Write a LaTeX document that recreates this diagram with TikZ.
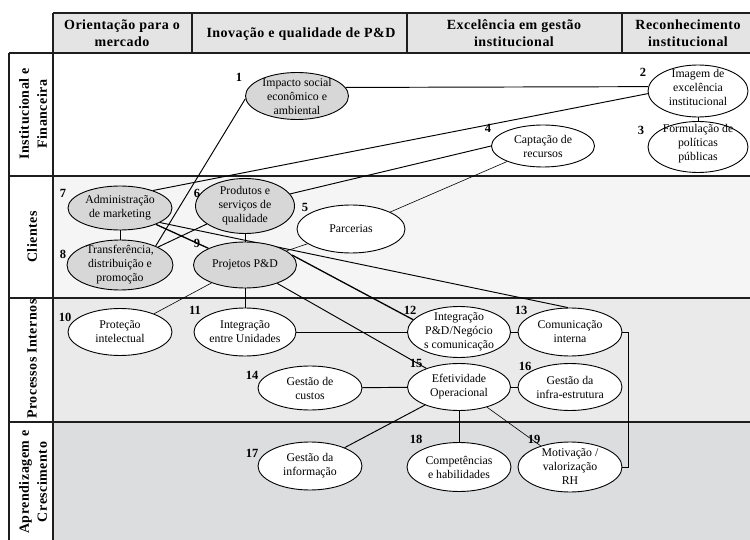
\documentclass[tikz,border=0pt]{standalone}
\usepackage{fontspec}
\setmainfont{Liberation Serif}
\newfontfamily\spacedbold[LetterSpace=3.5]{Liberation Serif}
\usetikzlibrary{shapes.geometric,calc}
\pgfdeclarelayer{back}
\pgfdeclarelayer{mid}
\pgfsetlayers{back,mid,main}
\definecolor{hdr}{HTML}{E4E4E4}
\definecolor{rowb}{HTML}{F5F5F5}
\definecolor{rowc}{HTML}{EAEAEB}
\definecolor{rowd}{HTML}{DCDDDF}
\definecolor{ellgray}{HTML}{D7D7D7}
\definecolor{gridc}{HTML}{1E1E1E}
\tikzset{
  ell/.style={ellipse, draw, line width=0.9pt, inner sep=0pt},
  gr/.style={ell, fill=ellgray},
  wh/.style={ell, fill=white},
  txt/.style={align=center, inner sep=0pt, font=\fontsize{11.8}{14}\selectfont},
  num/.style={inner sep=0pt, font=\fontsize{12.5}{13}\selectfont\bfseries},
  con/.style={line width=0.95pt},
  thincon/.style={line width=0.6pt},
  thickcon/.style={line width=1.3pt},
  gridline/.style={line width=1.7pt, draw=gridc},
  hdrtext/.style={align=center, inner sep=0pt, font=\fontsize{14}{17}\spacedbold\bfseries},
  rowlabel/.style={align=center, inner sep=0pt, rotate=90, font=\fontsize{14}{18}\spacedbold\bfseries}
}
\begin{document}
\begin{tikzpicture}[x=1pt,y=-1pt]
\useasboundingbox (0,0) rectangle (750,540);
\begin{pgfonlayer}{back}
\fill[white] (0,0) rectangle (750,540);
\fill[hdr] (53,13) rectangle (750,53);
\fill[rowb] (53,176) rectangle (750,298);
\fill[rowc] (53,298) rectangle (750,422);
\fill[rowd] (53,422) rectangle (750,540);
\draw[gridline] (53,13) -- (750,13);
\draw[gridline] (9,53) -- (750,53);
\draw[gridline] (9,176) -- (750,176);
\draw[gridline] (9,298) -- (750,298);
\draw[gridline] (9,422) -- (750,422);
\draw[gridline] (9,53) -- (9,540);
\draw[gridline] (53,13) -- (53,540);
\draw[gridline] (192,13) -- (192,53);
\draw[gridline] (407,13) -- (407,53);
\draw[gridline] (622,13) -- (622,53);
\end{pgfonlayer}
% header texts
\node[hdrtext] (h1) at (122,33) {Orientação para o\\mercado};
\node[hdrtext] (h2) at (301,34) {Inovação e qualidade de P\&D};
\node[hdrtext] (h3) at (514,33) {Excelência em gestão\\institucional};
\node[hdrtext] (h4) at (688,33) {Reconhecimento\\institucional};
% row labels
\node[rowlabel] (r1) at (33,114) {Institucional e\\Financeira};
\node[rowlabel] (r2) at (32,237) {Clientes};
\node[rowlabel] (r3) at (32,359) {Processos Internos};
\node[rowlabel] (r4) at (33,482) {Aprendizagem e\\Crescimento};
% nodes
\node[gr, minimum width=103, minimum height=47, label={[txt]center:{Impacto social\\econômico e\\ambiental}}] (n1) at (297,96) {};
\node[wh, minimum width=100, minimum height=52, label={[txt, yshift=4pt]center:{Imagem de\\excelência\\institucional}}] (n2) at (698,91) {};
\node[wh, minimum width=100, minimum height=51, label={[txt, yshift=3pt]center:{Formulação de\\políticas\\públicas}}] (n3) at (698,147) {};
\node[wh, minimum width=103, minimum height=42, label={[txt]center:{Captação de\\recursos}}] (n4) at (543,146) {};
\node[wh, minimum width=108, minimum height=48, label={[txt]center:{Parcerias}}] (n5) at (351,229) {};
\node[gr, minimum width=99, minimum height=55, label={[txt]center:{Produtos e\\serviços de\\qualidade}}] (n6) at (245,206) {};
\node[gr, minimum width=104, minimum height=44, label={[txt]center:{Administração\\de marketing}}] (n7) at (120,208) {};
\node[gr, minimum width=106, minimum height=50, label={[txt]center:{Transferência,\\distribuição e\\promoção}}] (n8) at (120,265) {};
\node[gr, minimum width=103, minimum height=46, label={[txt]center:{Projetos P\&D}}] (n9) at (245,265) {};
\node[wh, minimum width=104, minimum height=47, label={[txt]center:{Proteção\\intelectual}}] (n10) at (120,332) {};
\node[wh, minimum width=102, minimum height=48, label={[txt]center:{Integração\\entre Unidades}}] (n11) at (245,332) {};
\node[wh, minimum width=103, minimum height=51, label={[txt]center:{Integração\\P\&D/Negócio\\s comunicação}}] (n12) at (459,332) {};
\node[wh, minimum width=104, minimum height=48, label={[txt]center:{Comunicação\\interna}}] (n13) at (570,332) {};
\node[wh, minimum width=104, minimum height=44, label={[txt]center:{Gestão de\\custos}}] (n14) at (310,388) {};
\node[wh, minimum width=103, minimum height=47, label={[txt]center:{Efetividade\\Operacional}}] (n15) at (459,387) {};
\node[wh, minimum width=104, minimum height=47, label={[txt]center:{Gestão da\\infra-estrutura}}] (n16) at (570,387) {};
\node[wh, minimum width=104, minimum height=48, label={[txt]center:{Gestão da\\informação}}] (n17) at (310,466) {};
\node[wh, minimum width=104, minimum height=49, label={[txt]center:{Competências\\e habilidades}}] (n18) at (459,467) {};
\node[wh, minimum width=104, minimum height=50, label={[txt]center:{Motivação /\\valorização\\RH}}] (n19) at (570,467) {};
% connectors
\begin{pgfonlayer}{mid}
\draw[con] (n1.10) -- (n2.175);
\draw[con] (n2) -- (n3);
\draw[con] (n2.183) -- (n7.28);
\draw[con] (n1.183) -- (n8.28);
\draw[con] (n4.west) -- (n6.15);
\draw[thincon] (n4) -- (n5);
\draw[thincon] (n5) -- (n9);
\draw[con] (n7) -- (n8);
\draw[con] (n6) -- (n9);
\draw[con] (n6) -- (n8);
\draw[thickcon] (n7) -- (n9);
\draw[con] (n7.-20) -- (n13.95);
\draw[con] (n13.east) -- ++(6,0) |- (n19.east);
\draw[thincon] (n9) -- (n10);
\draw[con] (n9) -- (n11);
\draw[thickcon] (n9.12) -- (n12.165);
\draw[con] (n9) -- (n15);
\draw[con] (n11) -- (n12);
\draw[con] (n12) -- (n13);
\draw[con] (n14) -- (n15);
\draw[con] (n15) -- (n16);
\draw[con] (n15) -- (n17);
\draw[con] (n15) -- (n18);
\draw[thincon] (n15) -- (n19);
\end{pgfonlayer}
% numbers
\node[num] (k1) at (239,77) {1};
\node[num] (k2) at (643,72) {2};
\node[num] (k3) at (641,130) {3};
\node[num] (k4) at (488,128) {4};
\node[num] (k5) at (305,207) {5};
\node[num] (k6) at (197,193) {6};
\node[num] (k7) at (63,193) {7};
\node[num] (k8) at (63,254) {8};
\node[num] (k9) at (197,243) {9};
\node[num] (k10) at (65,317) {10};
\node[num] (k11) at (195,310) {11};
\node[num] (k12) at (410,310) {12};
\node[num] (k13) at (521,310) {13};
\node[num] (k14) at (252,375) {14};
\node[num] (k15) at (416,363) {15};
\node[num] (k16) at (525,366) {16};
\node[num] (k17) at (252,453) {17};
\node[num] (k18) at (416,439) {18};
\node[num] (k19) at (534,439) {19};
\end{tikzpicture}
\end{document}
